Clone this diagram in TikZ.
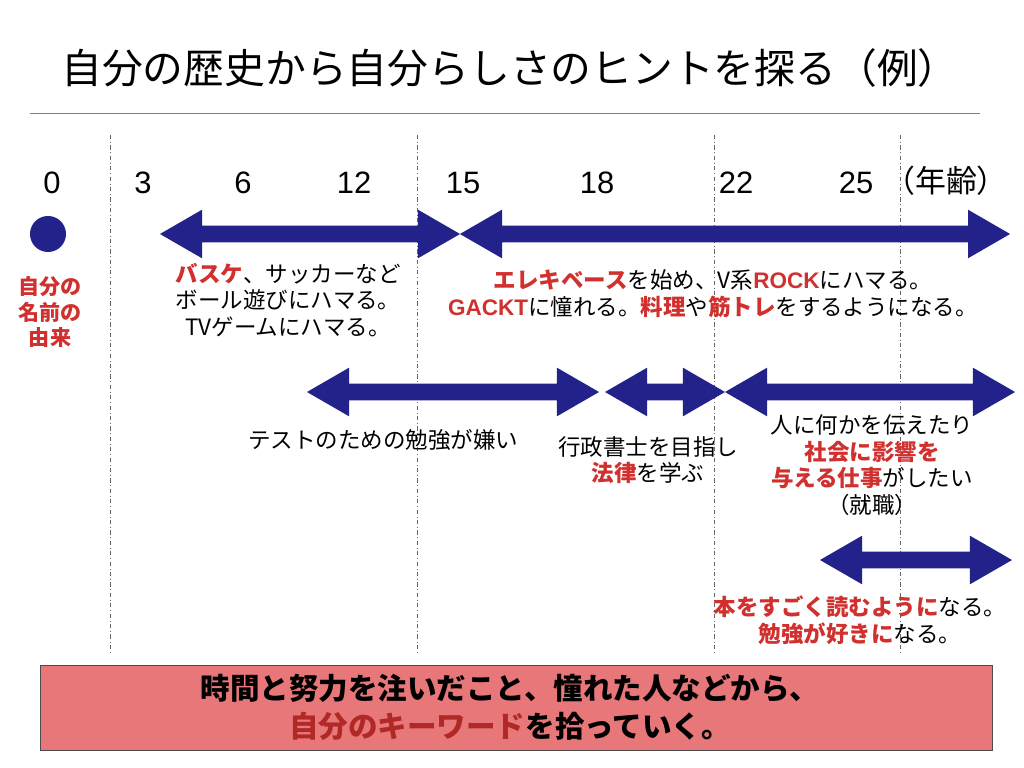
\documentclass[tikz,border=0pt]{standalone}
\usepackage{fontspec}
\setmainfont{Noto Sans CJK JP}
\newfontfamily\arialfont{Liberation Sans}
\usetikzlibrary{shapes.arrows}
\definecolor{navy}{HTML}{22228A}
\definecolor{keyred}{HTML}{D0302E}
\definecolor{boxpink}{HTML}{E8777A}
\newcommand{\kw}[1]{\textcolor{keyred}{\textbf{#1}}}
\begin{document}
\begin{tikzpicture}[x=0.025cm, y=-0.025cm,
  every node/.style = {align=center, inner sep=0pt},
  age/.style = {font=\arialfont\fontsize{22}{26}\selectfont},
  note/.style = {font=\fontsize{16}{19}\selectfont},
  span/.style = {shape=double arrow, fill=navy, draw=none,
    double arrow head extend=0.4cm, double arrow tip angle=60,
    inner sep=0.2cm, minimum width=1.2cm},
  guide/.style = {draw=gray!80!black, dash dot, thin}]
  \useasboundingbox (0,0) rectangle (1024,768);
  % title
  \node[font=\fontsize{29}{34}\selectfont] (title) at (510,68) {自分の歴史から自分らしさのヒントを探る（例）};
  \draw[gray] (30,113) -- (980,113);
  % guides
  \foreach \x in {110,417,714,900}
    \draw[guide] (\x,135) -- (\x,655);
  % ages
  \node[age] (a0) at (52,183) {0};
  \node[age] (a3) at (143,183) {3};
  \node[age] (a6) at (243,183) {6};
  \node[age] (a12) at (354,183) {12};
  \node[age] (a15) at (463,183) {15};
  \node[age] (a18) at (597,183) {18};
  \node[age] (a22) at (736,183) {22};
  \node[age] (a25) at (856,183) {25};
  \node[font=\fontsize{22}{26}\selectfont] (unit) at (946,181) {（年齢）};
  % spans
  \node[shape=circle, fill=navy, minimum size=0.9cm] (birth) at (48,234) {};
  \node[span, minimum height=7.5cm] (child) at (310,234) {};
  \node[span, minimum height=13.75cm] (youth) at (735,234) {};
  \node[span, minimum height=7.3cm] (test) at (453,392) {};
  \node[span, minimum height=3cm] (law) at (665,392) {};
  \node[span, minimum height=7.25cm] (work) at (870,392) {};
  \node[span, minimum height=4.8cm] (read) at (916,560) {};
  % notes
  \node[text=keyred, font=\bfseries\fontsize{15}{18}\selectfont] (name) at (50,312) {自分の\\名前の\\由来};
  \node[note] (play) at (288,300) {\kw{バスケ}、サッカーなど\\ボール遊びにハマる。\\TVゲームにハマる。};
  \node[note] (music) at (713,294) {\kw{エレキベース}を始め、V系\kw{\arialfont ROCK}にハマる。\\\kw{\arialfont GACKT}に憧れる。\kw{料理}や\kw{筋トレ}をするようになる。};
  \node[note] (study) at (383,440) {テストのための勉強が嫌い};
  \node[note] (scrivener) at (648,460) {行政書士を目指し\\\kw{法律}を学ぶ};
  \node[note] (job) at (872,465) {人に何かを伝えたり\\\kw{社会に影響を}\\\kw{与える仕事}がしたい\\（就職）};
  \node[note] (books) at (860,620) {\kw{本をすごく読むように}なる。\\\kw{勉強が好きに}なる。};
  % summary
  \draw[fill=boxpink, draw=black!70] (40,665) rectangle (992,750);
  \node[font=\bfseries\fontsize{21}{27}\selectfont] (summary) at (510,707) {時間と努力を注いだこと、憧れた人などから、\\\textcolor{keyred!85!black}{自分のキーワード}を拾っていく。};
\end{tikzpicture}
\end{document}
